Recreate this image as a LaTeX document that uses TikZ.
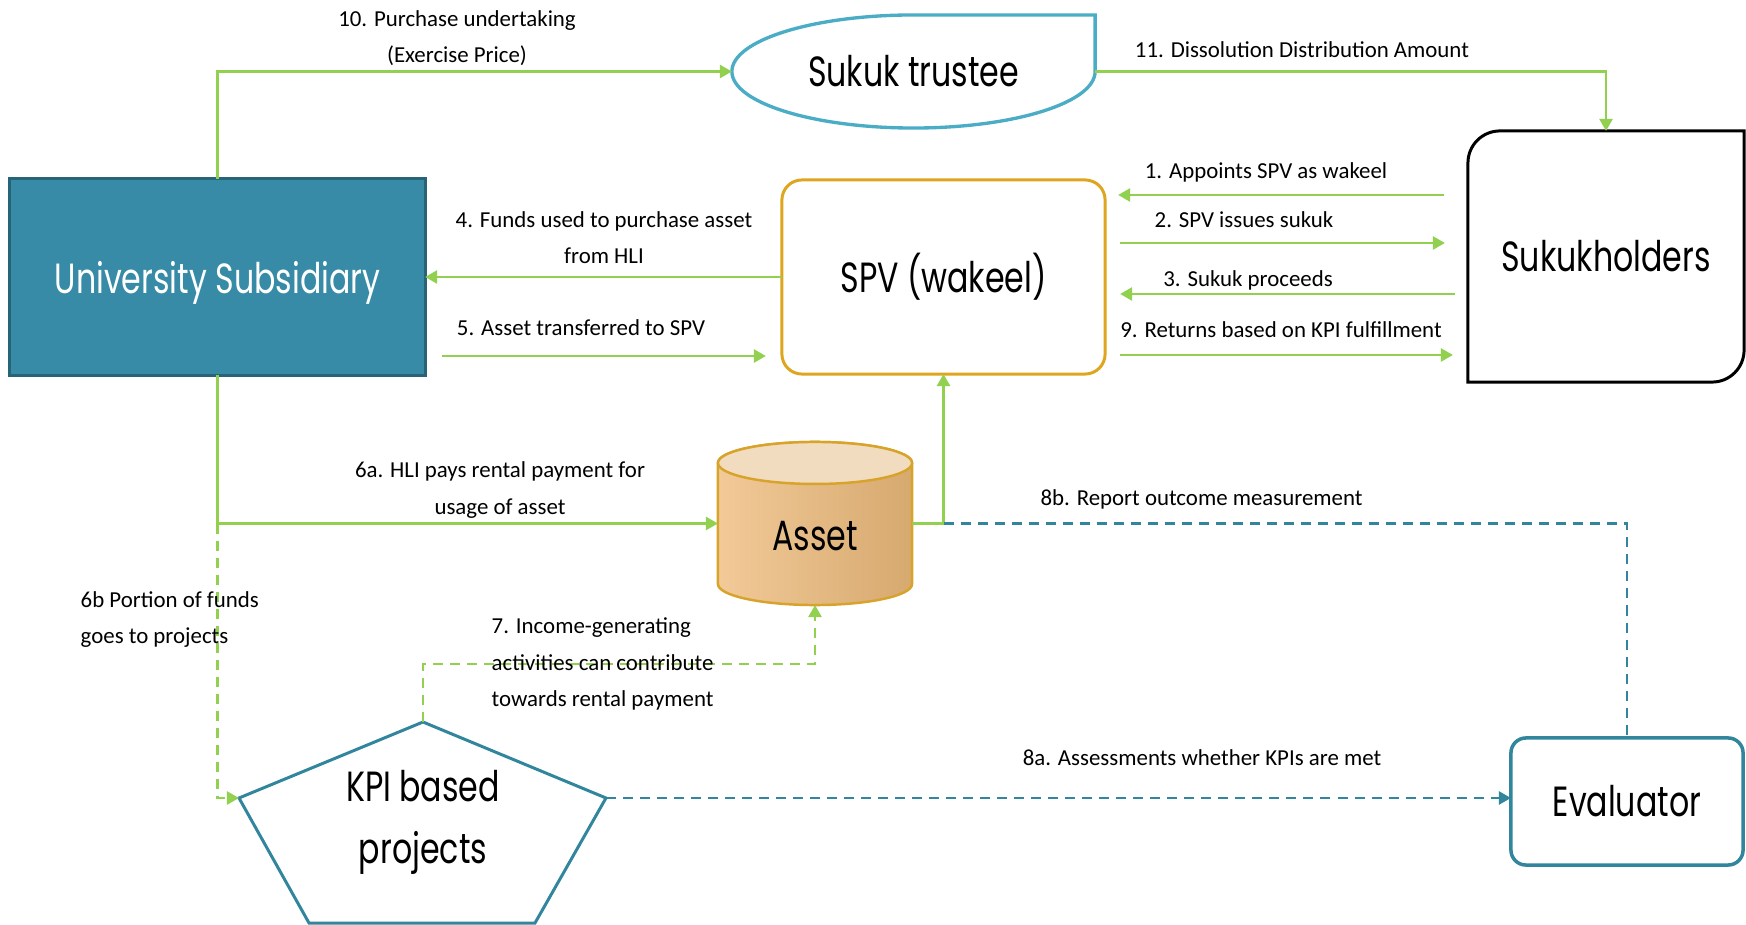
\documentclass[tikz,border=0pt]{standalone}
\usepackage{fontspec}
\setmainfont{Carlito}
\newfontfamily\boxfont[FakeStretch=0.75]{Poppins}
\usetikzlibrary{arrows.meta}
\definecolor{arrgreen}{RGB}{146,208,80}
\definecolor{kpiteal}{RGB}{49,133,156}
\definecolor{uniteal}{RGB}{56,139,166}
\definecolor{unidark}{RGB}{40,100,120}
\definecolor{trusteeblue}{RGB}{75,172,198}
\definecolor{spvgold}{RGB}{222,165,30}
\definecolor{assetgold}{RGB}{216,163,42}
\definecolor{assetlight}{RGB}{242,202,152}
\definecolor{assetdark}{RGB}{214,169,111}
\definecolor{assettop}{RGB}{242,220,192}
\begin{document}
\begin{tikzpicture}[x=0.01cm,y=-0.01cm,>={Triangle[length=0.12cm,width=0.13cm]},
	conn/.style={draw=arrgreen,line width=0.7pt},
	dconn/.style={conn,dash pattern=on 0.1cm off 0.07cm},
	tconn/.style={draw=kpiteal,line width=0.7pt,dash pattern=on 0.1cm off 0.07cm},
	lbl/.style={font=\fontsize{6.5}{10.3}\selectfont,align=center,inner sep=0pt},
	big/.style={font=\boxfont\fontsize{12}{17.6}\selectfont,align=center,outer sep=0pt}]
	\useasboundingbox (0,0) rectangle (1746,925);
	\node[big,draw=unidark,fill=uniteal,text=white,text depth=0pt,line width=0.85pt,minimum width=4.15cm,minimum height=1.96cm] (unisub) at (217.5,277) {University Subsidiary};
	\node[big,minimum width=3.63cm,minimum height=1.13cm] (trustee) at (913.5,71.5) {Sukuk trustee};
	\draw[draw=trusteeblue,line width=0.95pt] (trustee.east) -- (trustee.north east) -- (trustee.north) arc[start angle=90,end angle=360,x radius=1.815cm,y radius=0.565cm] -- cycle;
	\node[big,draw=spvgold,line width=0.85pt,rounded corners=0.2cm,minimum width=3.23cm,minimum height=1.94cm] (spv) at (943.5,277) {SPV (wakeel)};
	\node[big,minimum width=2.76cm,minimum height=2.51cm] (holders) at (1606,256.5) {Sukukholders};
	\draw[line width=0.85pt] (holders.north east) -- ([yshift=0.32cm]holders.south east) arc[start angle=0,end angle=-90,radius=0.32cm] -- (holders.south west) -- ([yshift=-0.32cm]holders.north west) arc[start angle=180,end angle=90,radius=0.32cm] -- cycle;
	\node[minimum width=1.94cm,minimum height=1.63cm,outer sep=0pt] (asset) at (815,523.5) {};
	\draw[draw=assetgold,line width=0.7pt,left color=assetlight,right color=assetdark] ([yshift=-0.21cm]asset.north west) -- ([yshift=0.21cm]asset.south west) arc[start angle=180,end angle=360,x radius=0.97cm,y radius=0.21cm] -- ([yshift=-0.21cm]asset.north east) arc[start angle=0,end angle=180,x radius=0.97cm,y radius=0.21cm] -- cycle;
	\draw[draw=assetgold,line width=0.7pt,fill=assettop] ([yshift=-0.21cm]asset.north) ellipse[x radius=0.97cm,y radius=0.21cm];
	\node[big] (assetlbl) at ([yshift=-0.13cm]asset.center) {Asset};
	\node[big,draw=kpiteal,line width=1pt,rounded corners=0.15cm,minimum width=2.32cm,minimum height=1.27cm] (eval) at (1627,801.5) {Evaluator};
	\node[big] (kpi) at (423,822) {KPI based\\projects};
	\path (kpi.center) ++(0,-100) coordinate (kpiT) ++(-184,76) coordinate (kpiL) ++(70,125) coordinate (kpiBL) ++(226,0) coordinate (kpiBR) ++(71,-125) coordinate (kpiR);
	\draw[draw=kpiteal,line width=0.85pt] (kpiT) -- (kpiL) -- (kpiBL) -- (kpiBR) -- (kpiR) -- cycle;
	\draw[conn,->] (unisub.north) |- (trustee.west);
	\draw[conn,->] (trustee.east) -| (holders.north);
	\draw[conn,->] (spv.west) -- (unisub.east);
	\draw[conn,->,shorten <=0.17cm,shorten >=0.16cm] (unisub.east |- 0,356) -- (spv.west |- 0,356);
	\draw[conn,->,shorten <=0.24cm,shorten >=0.13cm] (holders.west |- 0,195) -- (spv.east |- 0,195);
	\draw[conn,->,shorten <=0.15cm,shorten >=0.23cm] (spv.east |- 0,243) -- (holders.west |- 0,243);
	\draw[conn,->,shorten <=0.13cm,shorten >=0.15cm] (holders.west |- 0,294) -- (spv.east |- 0,294);
	\draw[conn,->,shorten <=0.15cm,shorten >=0.15cm] (spv.east |- 0,355) -- (holders.west |- 0,355);
	\draw[conn,->] (unisub.south) |- (asset.west);
	\draw[conn,->] (asset.east) -| (spv.south);
	\draw[tconn] (spv.south |- asset.east) -| (eval.north);
	\draw[dconn,->] (unisub.south |- asset.west) |- (kpiL);
	\draw[dconn,->] (kpiT) -- (kpiT |- 0,664) -| (asset.south);
	\draw[tconn,->] (kpiR) -- (kpiR -| eval.west);
	\node[lbl] (l10) at (457,38) {10. Purchase undertaking\\(Exercise Price)};
	\node[lbl] (l11) at (1302,50) {11. Dissolution Distribution Amount};
	\node[lbl] (l1) at (1266,172) {1. Appoints SPV as wakeel};
	\node[lbl] (l2) at (1244,220) {2. SPV issues sukuk};
	\node[lbl] (l3) at (1248,280) {3. Sukuk proceeds};
	\node[lbl] (l9) at (1281,330) {9. Returns based on KPI fulfillment};
	\node[lbl] (l4) at (604,237.5) {4. Funds used to purchase asset\\from HLI};
	\node[lbl] (l5) at (581,328) {5. Asset transferred to SPV};
	\node[lbl] (l6a) at (500,490) {6a. HLI pays rental payment for\\usage of asset};
	\node[lbl,anchor=west,align=left] (l6b) at (80,619.5) {6b Portion of funds\\goes to projects};
	\node[lbl,anchor=west,align=left] (l7) at (491,664) {7. Income-generating\\activities can contribute\\towards rental payment};
	\node[lbl] (l8b) at (1201.5,499) {8b. Report outcome measurement};
	\node[lbl] (l8a) at (1202,758) {8a. Assessments whether KPIs are met};
\end{tikzpicture}
\end{document}
